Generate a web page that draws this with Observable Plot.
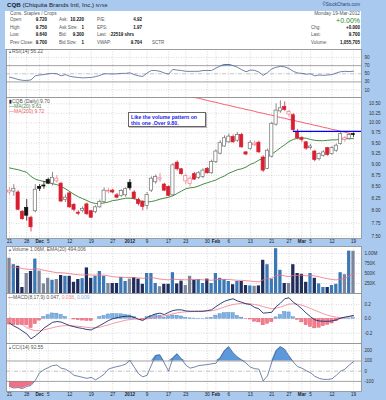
<!DOCTYPE html>
<html><head><meta charset="utf-8">
<script src="https://cdn.jsdelivr.net/npm/d3@7"></script>
<script src="https://cdn.jsdelivr.net/npm/@observablehq/plot@0.6"></script>
<style>
body{margin:0;background:#fff;}
#chart{position:relative;width:386px;height:400px;background:#a9c9ef;overflow:hidden;font-family:"Liberation Sans",Arial,sans-serif;}
.t{position:absolute;white-space:nowrap;line-height:1;z-index:5;}
#hdr{position:absolute;left:5px;top:11px;width:356px;height:38px;background:#fff;}
#note{position:absolute;left:128px;top:112px;width:72px;height:12px;background:#fff;border:0.8px solid #666;box-shadow:1px 1px 0 #bbb;color:#1c1cf0;font-weight:bold;font-size:5.2px;line-height:6px;padding:0.5px 2px;z-index:6;white-space:nowrap;}
</style></head><body><div id="chart"><div id="hdr"></div></div>
<script>
// ---- date axis ----
const tickIdx = [0,4,7,9,14,19,24,28,32,37,41,46,48,51,56,61,65,68,70,75,80];
const tickLab = ["21","28","Dec","5","12","19","27","2012","9","17","23","30","Feb","6","13","21","27","Mar","5","12","19"];
const boldLab = ["Dec","2012","Feb","Mar"];
// ---- price (OHLC), Nov 21 2011 .. Mar 19 2012 ----
const priorClose = 8.50;
const open = [8.38,8.40,8.38,7.98,8.06,7.86,7.99,8.50,8.53,8.65, 8.57,8.62,8.57,8.22,8.36,8.12,7.96,8.00,8.13,7.99, 7.97,8.07,8.18,8.40,8.42,8.32,8.31,8.32,8.59,8.38, 8.22,8.18,8.10,8.42,8.60,8.66,8.55,8.50,8.32,9.04, 8.89,8.62,8.56,8.78,8.70,8.72,8.90,8.80,9.05,9.25, 9.42,9.52,9.65,9.56,9.70,9.28,9.36,9.45,9.51,9.16, 8.90,9.18,9.96,10.30,10.42,10.22,10.20,9.78,9.62,9.52, 9.38,9.30,9.12,9.20,9.38,9.24,9.32,9.48,9.58,9.60, 9.72];
const high = [8.48,8.55,8.42,8.00,8.23,7.89,8.55,8.55,8.62,8.69, 8.82,8.75,8.60,8.33,8.40,8.15,8.00,8.08,8.16,8.01, 8.10,8.22,8.48,8.47,8.45,8.36,8.44,8.48,8.66,8.42, 8.26,8.21,8.38,8.72,8.76,8.80,8.58,8.52,9.02,9.08, 8.90,8.78,8.72,8.82,8.84,8.90,8.93,9.10,9.34,9.56, 9.68,9.72,9.70,9.76,9.74,9.30,9.56,9.55,9.55,9.20, 9.36,10.02,10.50,10.58,10.55,10.33,10.24,9.84,9.66,9.54, 9.47,9.33,9.27,9.32,9.40,9.42,9.48,9.76,9.66,9.74, 9.75];
const low = [8.33,8.30,8.00,7.81,7.79,7.58,7.96,8.40,8.45,8.55, 8.52,8.58,8.17,8.17,8.05,7.98,7.90,7.96,7.90,7.84, 7.94,8.05,8.15,8.35,8.35,8.25,8.28,8.28,8.42,8.22, 8.10,8.00,8.02,8.38,8.56,8.60,8.40,8.29,8.30,8.85, 8.76,8.55,8.50,8.64,8.66,8.68,8.78,8.78,9.02,9.22, 9.40,9.50,9.50,9.52,9.38,9.20,9.33,9.42,9.26,8.82, 8.88,9.15,9.92,10.25,10.30,10.15,9.78,9.58,9.52,9.33, 9.34,9.06,9.08,9.17,9.19,9.21,9.28,9.45,9.52,9.57, 9.64];
const close = [8.42,8.46,8.02,7.83,7.90,7.67,8.44,8.46,8.51,8.57, 8.70,8.68,8.19,8.27,8.07,8.02,7.94,8.04,7.93,7.86, 8.07,8.18,8.42,8.41,8.38,8.27,8.41,8.45,8.47,8.25, 8.14,8.08,8.33,8.68,8.72,8.69,8.42,8.31,8.98,8.89, 8.78,8.74,8.68,8.66,8.80,8.86,8.80,9.06,9.30,9.50, 9.62,9.66,9.52,9.70,9.40,9.23,9.51,9.49,9.28,8.86, 9.32,9.98,10.32,10.38,10.34,10.28,9.82,9.62,9.58,9.37, 9.42,9.10,9.24,9.28,9.22,9.38,9.44,9.72,9.62,9.70, 9.70];
const ma20 = [8.92,8.90,8.88,8.85,8.82,8.73,8.67,8.64,8.62,8.60, 8.57,8.55,8.51,8.46,8.40,8.34,8.29,8.25,8.21,8.17, 8.15,8.15,8.16,8.18,8.21,8.22,8.24,8.26,8.26,8.25, 8.22,8.19,8.18,8.19,8.21,8.24,8.26,8.28,8.31,8.36, 8.41,8.46,8.48,8.49,8.52,8.56,8.59,8.62,8.65,8.70, 8.74,8.80,8.84,8.88,8.90,8.94,9.00,9.04,9.10,9.14, 9.17,9.24,9.31,9.39,9.46,9.54,9.59,9.62,9.63,9.62, 9.59,9.57,9.56,9.56,9.57,9.58,9.58,9.60,9.61,9.61, 9.61];
const ma200Start = 38;
const ma200 = [10.81,10.78,10.75,10.73,10.70,10.67,10.65,10.62,10.59,10.56, 10.54,10.51,10.48,10.46,10.43,10.40,10.38,10.35,10.33,10.30, 10.27,10.25,10.22,10.20,10.17,10.14,10.12,10.09,10.07,10.04, 10.02,9.99,9.97,9.94,9.92,9.89,9.87,9.84,9.82,9.79, 9.77,9.74,9.72];
const resistance = {level: 9.79, startIdx: 66};
const priceTicks = [7.5,7.75,8,8.25,8.5,8.75,9,9.25,9.5,9.75,10,10.25,10.5];
// ---- volume (thousands) ----
const vol = [880,720,680,150,500,550,860,560,240,380, 330,350,450,430,430,280,350,370,640,380, 430,550,430,250,250,250,400,300,360,400, 360,230,500,500,250,170,230,230,520,240, 310,200,430,330,350,250,360,250,500,380, 350,300,220,300,300,200,190,180,190,830, 720,360,1120,580,250,250,720,500,480,280, 500,380,240,150,150,200,230,520,470,1060, 1056];
const volEma = [660,660,650,620,610,600,620,610,580,560, 540,520,520,510,500,480,470,460,470,460, 460,460,460,440,420,410,410,400,400,400, 390,380,390,400,380,360,350,340,360,350, 350,340,350,350,350,340,340,330,350,350, 350,350,340,330,330,320,310,300,290,340, 380,380,450,460,440,420,450,450,460,440, 450,440,420,390,370,350,340,360,370,440, 494];
const volTicks = [250,500,750,1000];
const volTickLab = ["250K","500K","750K","1.00M"];
// ---- RSI(14) ----
const rsi = [41.7,39.3,36,34,33.5,35,45,47,48,50, 51,50,45,48,44,42,41,40,40.5,41, 43,46,50,50,49.5,50,51,51,52.5,48, 45,43.5,52,58,58,56,52,49,61,59, 58,56,56,56,56,58,58,58,64,69, 72,73,70,66,60,55,59,58.5,54,46, 53,62,66,68,67,63,56,52,51,49, 50,45,47,46,47,48,52,55,56,55.5, 56.2];
const rsiTicks = [10,30,50,70,90];
// ---- MACD(8,17,9) ----
const macd = [-0.06,-0.10,-0.13,-0.17,-0.21,-0.28,-0.24,-0.19,-0.13,-0.09, -0.05,-0.038,-0.045,-0.07,-0.094,-0.11,-0.125,-0.135,-0.15,-0.155, -0.125,-0.094,-0.06,-0.024,0.0,0.015,0.028,0.035,0.037,0.02, -0.005,-0.024,0.02,0.046,0.07,0.079,0.06,0.09,0.116,0.126, 0.125,0.11,0.106,0.106,0.106,0.106,0.115,0.126,0.17,0.21, 0.245,0.266,0.28,0.25,0.232,0.21,0.20,0.16,0.14,0.079, 0.085,0.092,0.17,0.218,0.28,0.294,0.232,0.19,0.14,0.08, 0.03,-0.014,-0.03,-0.034,-0.034,-0.03,-0.014,0.01,0.023,0.035, 0.047];
const signal = [0.02,-0.01,-0.04,-0.08,-0.12,-0.15,-0.165,-0.165,-0.155,-0.14, -0.125,-0.11,-0.10,-0.095,-0.095,-0.10,-0.105,-0.11,-0.12,-0.125, -0.125,-0.118,-0.10,-0.085,-0.065,-0.05,-0.035,-0.02,-0.01,-0.004, -0.005,-0.008,-0.002,0.008,0.02,0.035,0.043,0.055,0.07,0.083, 0.092,0.098,0.10,0.102,0.104,0.105,0.108,0.112,0.125,0.145, 0.165,0.185,0.20,0.21,0.215,0.213,0.21,0.20,0.19,0.17, 0.155,0.14,0.15,0.165,0.185,0.205,0.21,0.205,0.19,0.17, 0.145,0.12,0.095,0.07,0.05,0.035,0.022,0.018,0.02,0.03, 0.038];
const hist = [-0.08,-0.09,-0.09,-0.09,-0.09,-0.13,-0.075,-0.025,0.025,0.05, 0.075,0.072,0.055,0.025,0.0,-0.01,-0.02,-0.025,-0.03,-0.03, 0.0,0.024,0.04,0.061,0.065,0.065,0.063,0.055,0.047,0.024, 0.0,-0.016,0.022,0.038,0.05,0.044,0.017,0.035,0.046,0.043, 0.033,0.012,0.006,0.004,0.002,0.001,0.007,0.014,0.045,0.065, 0.08,0.081,0.08,0.04,0.017,-0.003,-0.01,-0.04,-0.05,-0.091, -0.07,-0.048,0.02,0.053,0.095,0.089,0.022,-0.015,-0.05,-0.09, -0.115,-0.134,-0.125,-0.104,-0.084,-0.065,-0.036,-0.008,0.003,0.005, 0.009];
const macdTicks = [-0.2,0,0.2];
const macdTickLab = ["-0.2","0.0","0.2"];
// ---- CCI(14) ----
const cci = [-150,-165,-160,-170,-150,-140,-90,-15,15,35, 55,60,30,20,-5,-40,-50,-60,-70,-60, -85,-60,-30,20,35,45,55,70,105,40, -25,-55,-40,60,155,160,80,0,130,170, 120,60,30,40,55,60,65,72,78,130, 200,240,180,140,110,80,40,25,20,-95, -45,90,200,240,215,150,90,45,30,5, -15,-50,-70,-80,-80,-75,-40,0,20,60, 93];
const cciTicks = [-100,0,100,200];

// ================= drawing =================
const chart = document.getElementById("chart");
const FONT = "'Liberation Sans', Arial, sans-serif";
const W = 386, ML = 6, MR = 25;
const xDomain = [-0.7, 81.86];
const idx = d3.range(open.length);
function kind(i){
  const o = open[i], c = close[i], p = i ? close[i-1] : priorClose;
  const up = c >= p, hollow = c > o;
  if (up && hollow) return "hb"; if (up) return "bk"; if (hollow) return "pk"; return "rd";
}
const candleFill = {hb:"#ffffff", bk:"#111111", pk:"#ffffff", rd:"#d81f30"};
const candleStroke = {hb:"#6f6f6f", bk:"#111111", pk:"#ee7d8c", rd:"#d81f30"};
const volFill = {hb:"#3b78b6", bk:"#7d8698", pk:"#7d8698", rd:"#1f2d5c"};
const candles = idx.map(i => ({i, o:open[i], h:high[i], l:low[i], c:close[i], k:kind(i)}));
const series = arr => idx.map(i => ({i, v: arr[i]}));
const grid = {stroke:"#c2c2c2", strokeOpacity:1, strokeDasharray:"1,1.5", strokeWidth:0.6};
const dateTicks = tickIdx.map((i,k) => ({i, label: tickLab[k], bold: boldLab.includes(tickLab[k])}));
const dateMarks = () => [
  Plot.text(dateTicks.filter(d => !d.bold), {x:"i", text:"label", frameAnchor:"bottom", dy:4.6, fontSize:4.6, fill:"#222"}),
  Plot.text(dateTicks.filter(d => d.bold), {x:"i", text:"label", frameAnchor:"bottom", dy:4.6, fontSize:4.6, fontWeight:"bold", fill:"#222"})
];
const rightLabels = (ticks, labels) => Plot.text(ticks, {y: d => d, text: (d,k) => labels[k], frameAnchor:"right", dx:3, textAnchor:"start", fontSize:4.6, fill:"#333"});

function panel(top, height, marginBottom, y, marks){
  const svg = Plot.plot({
    width: W, height: height + marginBottom, marginLeft: ML, marginRight: MR, marginTop: 0, marginBottom,
    x: {domain: xDomain, axis: null}, y: {...y, axis: null}, color: {type: "identity"},
    style: {background: "transparent", fontFamily: FONT, overflow: "visible"},
    marks
  });
  svg.style.position = "absolute"; svg.style.left = "0px"; svg.style.top = top + "px";
  chart.appendChild(svg);
}

// RSI panel
const rsiData = series(rsi);
panel(49, 48, 0, {domain: [-8.2, 109.6]}, [
  Plot.frame({fill:"#fff"}),
  Plot.gridX(tickIdx, grid),
  Plot.ruleY([10, 90], grid),
  Plot.areaY(rsiData, {x:"i", y1:70, y2: d => Math.max(d.v, 70), fill:"#4a8ad6"}),
  Plot.ruleY([30, 70], {stroke:"#8c8c8c", strokeWidth:0.8}),
  Plot.ruleY([50], {stroke:"#a8a8a8", strokeWidth:0.7, strokeDasharray:"4,1.5,1,1.5"}),
  Plot.line(rsiData, {x:"i", y:"v", stroke:"#4b6590", strokeWidth:0.8}),
  Plot.frame({stroke:"#8a8a8a", strokeWidth:0.8}),
  rightLabels(rsiTicks, rsiTicks.map(String))
]);

// Price panel
const ma200Data = ma200.map((v,k) => ({i: ma200Start + k, v}));
panel(97, 141, 8, {type:"log", domain:[7.455, 10.67]}, [
  Plot.frame({fill:"#fff"}),
  Plot.gridX(tickIdx, grid),
  Plot.gridY(priceTicks, grid),
  Plot.line(ma200Data, {x:"i", y:"v", stroke:"#f0505e", strokeWidth:0.9, clip:true}),
  Plot.line(series(ma20), {x:"i", y:"v", stroke:"#2f7f2f", strokeWidth:0.9, clip:true}),
  Plot.ruleX(candles, {x:"i", y1:"l", y2:"h", stroke: d => candleStroke[d.k], strokeWidth:0.8}),
  Plot.rect(candles, {x1: d => d.i - 0.37, x2: d => d.i + 0.37, y1: d => Math.min(d.o, d.c), y2: d => Math.max(d.o, d.c),
    fill: d => candleFill[d.k], stroke: d => candleStroke[d.k], strokeWidth:0.7}),
  Plot.ruleY([resistance], {y:"level", x1:"startIdx", x2: () => xDomain[1], stroke:"#0000ff", strokeWidth:1.2, clip:true}),
  Plot.frame({stroke:"#8a8a8a", strokeWidth:0.8}),
  Plot.text(priceTicks, {y: d => d, text: d => d3.format(".2f")(d), frameAnchor:"right", dx:19, textAnchor:"end", fontSize:4.6, fill:"#333"}),
  ...dateMarks()
]);

// Volume panel
panel(246, 47, 0, {domain:[0, 1175]}, [
  Plot.frame({fill:"#fff"}),
  Plot.gridX(tickIdx, grid),
  Plot.ruleY(volTicks, grid),
  Plot.rect(candles, {x1: d => d.i - 0.38, x2: d => d.i + 0.38, y1: 0, y2: d => vol[d.i], fill: d => volFill[d.k]}),
  Plot.line(series(volEma), {x:"i", y:"v", stroke:"#f2707c", strokeWidth:0.8}),
  Plot.frame({stroke:"#8a8a8a", strokeWidth:0.8}),
  rightLabels(volTicks, volTickLab)
]);

// MACD panel
const histData = series(hist);
panel(293, 50, 0, {domain:[-0.345, 0.354]}, [
  Plot.frame({fill:"#fff"}),
  Plot.gridX(tickIdx, grid),
  Plot.ruleY(macdTicks, grid),
  Plot.rect(histData, {x1: d => d.i - 0.38, x2: d => d.i + 0.38, y1: 0, y2: "v",
    fill: d => d.v >= 0 ? "#7fb0e4" : "#f27d8d", stroke: d => d.v >= 0 ? "#4a82c0" : "#e0566a", strokeWidth:0.4}),
  Plot.line(series(signal), {x:"i", y:"v", stroke:"#f27f8f", strokeWidth:0.8}),
  Plot.line(series(macd), {x:"i", y:"v", stroke:"#1c2b6a", strokeWidth:0.9}),
  Plot.frame({stroke:"#8a8a8a", strokeWidth:0.8}),
  rightLabels(macdTicks, macdTickLab)
]);

// CCI panel
const cciData = series(cci);
panel(343, 48, 9, {domain:[-199, 271.6]}, [
  Plot.frame({fill:"#fff"}),
  Plot.gridX(tickIdx, grid),
  Plot.ruleY([200], grid),
  Plot.areaY(cciData, {x:"i", y1:100, y2: d => Math.max(d.v, 100), fill:"#5b98dc"}),
  Plot.areaY(cciData, {x:"i", y1:-100, y2: d => Math.min(d.v, -100), fill:"#f27083"}),
  Plot.ruleY([100, -100], {stroke:"#8c8c8c", strokeWidth:0.8}),
  Plot.ruleY([0], {stroke:"#a8a8a8", strokeWidth:0.7, strokeDasharray:"4,1.5,1,1.5"}),
  Plot.line(cciData, {x:"i", y:"v", stroke:"#4f6690", strokeWidth:0.8}),
  Plot.frame({stroke:"#8a8a8a", strokeWidth:0.8}),
  rightLabels(cciTicks, cciTicks.map(String)),
  ...dateMarks()
]);

// ---- texts ----
function T(html, x, cy, size, opts = {}){
  const d = document.createElement("div");
  d.className = "t"; d.innerHTML = html;
  d.style.fontSize = size + "px";
  d.style.top = (cy - size/2) + "px";
  if (opts.right) d.style.right = (W - x) + "px"; else d.style.left = x + "px";
  if (opts.color) d.style.color = opts.color;
  if (opts.bold) d.style.fontWeight = "bold";
  chart.appendChild(d); return d;
}
T('<b>CQB</b> (Chiquita Brands Intl, Inc.) <span style="font-size:4.4px">NYSE</span>', 7, 5.5, 6.2, {color:"#1a1a1a"});
T('©StockCharts.com', 360, 5, 4.5, {right:true, color:"#2b3f66"});
const G = "#555", V = "#111", HS = 4.5;
T('Cons. Staples / Crops', 10, 14, 4.8, {color:G});
const rows = [20.5, 28, 35.5, 43];
[["Open:","9.720","Ask:","10.220","P/E:","4.92"],
 ["High:","9.750","Ask Size:","1","EPS:","1.97"],
 ["Low:","9.640","Bid:","9.300","Last:",""],
 ["Prev Close:","9.700","Bid Size:","1","VWAP:","9.704"]].forEach((r,k) => {
  const y = rows[k];
  T(r[0], 10, y, HS, {color:G}); T(r[1], 47, y, HS, {right:true, bold:true, color:V});
  T(r[2], 59, y, HS, {color:G}); T(r[3], 84, y, HS, {right:true, bold:true, color:V});
  T(r[4], 97, y, HS, {color:G}); if (r[5]) T(r[5], 142, y, HS, {right:true, bold:true, color:V});
});
T('<span style="color:#1e9a1e">↑</span><b>22519 shrs</b>', 108.5, 35.5, HS, {color:V});
T('SCTR', 152, 43, HS, {color:G});
T('Monday 19-Mar-2012', 360, 14, 4.8, {right:true, color:G});
T('+0.00%', 360, 20.8, 7, {right:true, color:"#1e8c1e"});
T('Chg:', 311, 28, HS, {color:G}); T('+0.000', 360, 28, HS, {right:true, bold:true, color:V});
T('Last:', 311, 35.5, HS, {color:G}); T('9.700', 360, 35.5, HS, {right:true, bold:true, color:V});
T('Volume:', 311, 43, HS, {color:G}); T('1,055,705', 360, 43, HS, {right:true, bold:true, color:V});
// panel legends
T('<span style="color:#3f7cc4;font-size:4px">▲</span>RSI(14) 56.22', 8, 51.5, 5, {color:G});
T('<span style="color:#222;font-size:4.5px">▮</span>CQB (Daily) 9.70', 9, 101, 5, {color:G});
T('<span style="color:#2f7f2f">—</span>MA(20) 9.61', 9, 106, 5, {color:"#4e8a4e"});
T('<span style="color:#f0505e">—</span>MA(200) 9.72', 9, 111, 5, {color:"#ef5a66"});
T('<span style="color:#3f7cc4;font-size:4px">▲</span>Volume 1.06M, EMA(20) 494,006', 8, 249, 5, {color:G});
T('<span style="color:#1c2b6a">—</span>MACD(8,17,9) 0.047, <span style="color:#f27f8f">0.038</span>, <span style="color:#7fb0e4">0.009</span>', 8, 297, 5, {color:G});
T('<span style="color:#3f7cc4;font-size:4px">▲</span>CCI(14) 92.55', 8, 347, 5, {color:G});
// annotation
const note = document.createElement("div");
note.id = "note"; note.innerHTML = "Like the volume pattern on<br>this one .Over 9.80.";
chart.appendChild(note);
</script></body></html>
